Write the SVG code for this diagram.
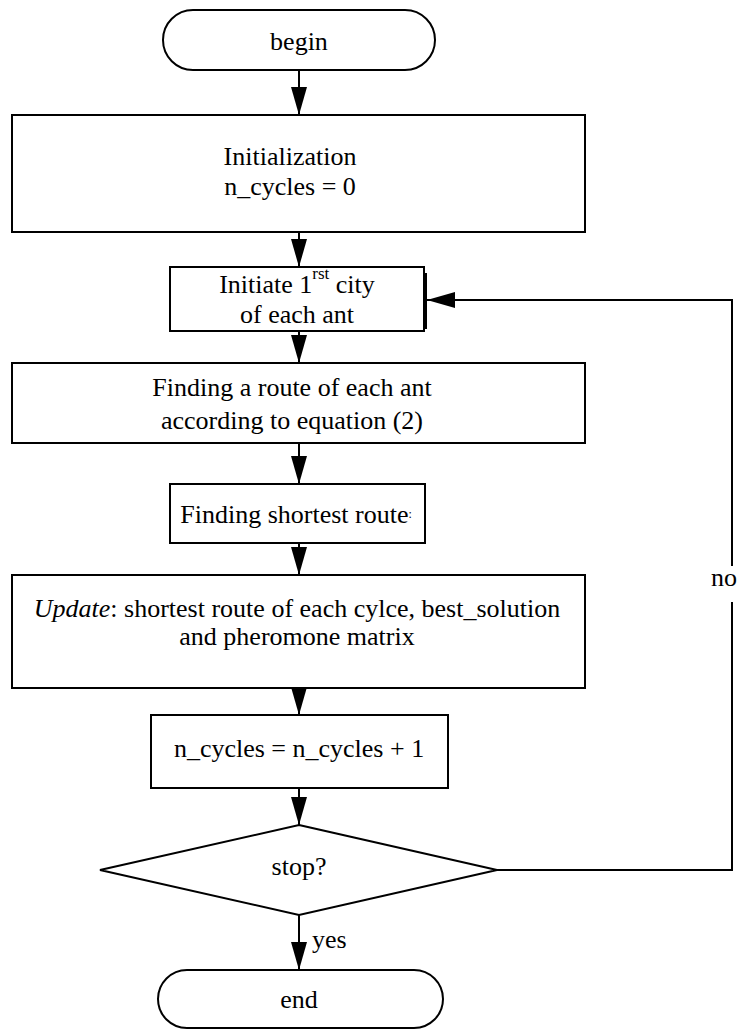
<svg xmlns="http://www.w3.org/2000/svg" width="741" height="1030" viewBox="0 0 741 1030">
<style>
.n{fill:#fff;stroke:#000;stroke-width:2}
.t{font-family:'Liberation Serif','Times New Roman',Times,'DejaVu Serif',serif;font-size:26px;fill:#000;text-anchor:middle}
.s{text-anchor:start}
.c{fill:none;stroke:#000;stroke-width:2}
</style>
<defs>
<marker id="a" markerWidth="28" markerHeight="16" refX="28" refY="8" orient="auto" markerUnits="userSpaceOnUse" viewBox="0 0 28 16">
<path d="M0,0 L28,8 L0,16 Z" fill="#000"/>
</marker>
</defs>
<rect width="741" height="1030" fill="#fff"/>
<g id="connectors">
<line class="c" x1="299" y1="70" x2="299" y2="115" marker-end="url(#a)"/>
<line class="c" x1="299" y1="232" x2="299" y2="267" marker-end="url(#a)"/>
<line class="c" x1="299" y1="331" x2="299" y2="363" marker-end="url(#a)"/>
<line class="c" x1="299" y1="443" x2="299" y2="484" marker-end="url(#a)"/>
<line class="c" x1="299" y1="543" x2="299" y2="575" marker-end="url(#a)"/>
<line class="c" x1="299" y1="688" x2="299" y2="715" marker-end="url(#a)"/>
<line class="c" x1="299" y1="788" x2="299" y2="825" marker-end="url(#a)"/>
<line class="c" x1="299" y1="915" x2="299" y2="970" marker-end="url(#a)"/>
<polyline class="c" points="497,870 732,870 732,602"/>
<polyline class="c" points="732,566 732,300 427,300" marker-end="url(#a)"/>
<text class="t" x="724" y="586">no</text>
<text class="t s" x="312" y="948">yes</text>
</g>
<g id="begin">
<rect class="n" x="163" y="10" width="272" height="60" rx="30"/>
<text class="t" x="299" y="50">begin</text>
</g>
<g id="init">
<rect class="n" x="12" y="115" width="573" height="117"/>
<text class="t" x="290" y="165">Initialization</text>
<text class="t" x="290" y="195">n_cycles = 0</text>
</g>
<g id="initiate">
<rect class="n" x="170" y="267" width="254" height="64"/>
<line x1="426" y1="273" x2="426" y2="329" stroke="#000" stroke-width="2"/>
<text class="t" x="297" y="293">Initiate 1<tspan dy="-14" font-size="17">rst</tspan><tspan dy="14"> city</tspan></text>
<text class="t" x="297" y="323">of each ant</text>
</g>
<g id="route">
<rect class="n" x="12" y="363" width="573" height="80"/>
<text class="t" x="292" y="396">Finding a route of each ant</text>
<text class="t" x="292" y="429">according to equation (2)</text>
</g>
<g id="shortest">
<rect class="n" x="170" y="484" width="255" height="59"/>
<text class="t" x="296" y="523">Finding shortest route<tspan font-size="12" dy="-5">:</tspan></text>
</g>
<g id="update">
<rect class="n" x="12" y="575" width="573" height="113"/>
<text class="t" x="297" y="617"><tspan font-style="italic">Update</tspan>: shortest route of each cylce, best_solution</text>
<text class="t" x="297" y="645">and pheromone matrix</text>
</g>
<g id="incr">
<rect class="n" x="151" y="715" width="297" height="73"/>
<text class="t" x="299" y="757">n_cycles = n_cycles + 1</text>
</g>
<g id="stop">
<polygon class="n" points="299,825 497,870 299,915 100,870"/>
<text class="t" x="299" y="875">stop?</text>
</g>
<g id="end">
<rect class="n" x="158" y="970" width="285" height="58" rx="29"/>
<text class="t" x="299" y="1008">end</text>
</g>
</svg>
